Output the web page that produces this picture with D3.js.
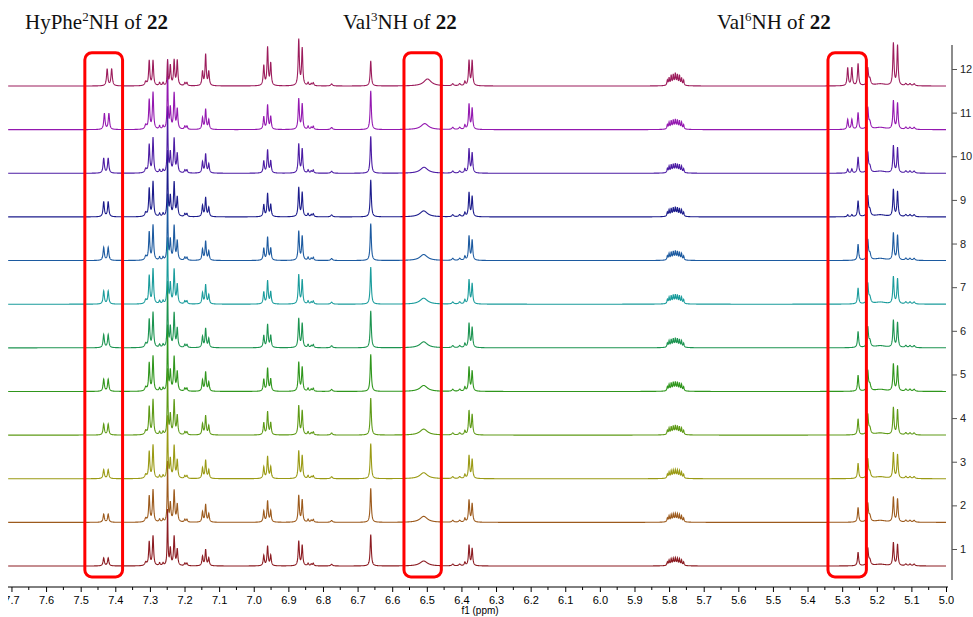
<!DOCTYPE html>
<html>
<head>
<meta charset="utf-8">
<script src="https://cdn.jsdelivr.net/npm/d3@7"></script>
<style>
  body { margin: 0; background: #fff; }
  svg text { font-family: "Liberation Sans", Arial, sans-serif; }
  .title { font-family: "Liberation Serif", "Times New Roman", serif; font-size: 21px; fill: #111; }
</style>
</head>
<body>
<script>
var w = 973, h = 617;

// stacked spectra, bottom to top
var spectra = [1, 2, 3, 4, 5, 6, 7, 8, 9, 10, 11, 12];
var colors = ["#8c1c22", "#9c5a1c", "#9a9a14", "#5e9a16", "#2f961c", "#1c9450",
              "#1a9c9c", "#1c5aa0", "#1c1c8c", "#4c1ca4", "#9418b0", "#9c1c5c"];

// peaks seen in every spectrum: shift (ppm), half width (ppm), height
var peakPpm    = [7.312, 7.302, 7.291, 7.272, 7.262, 7.249, 7.241, 7.230, 7.221, 7.199, 7.193,
                  7.148, 7.139, 7.130, 6.971, 6.960, 6.951, 6.870, 6.860, 6.843, 6.834, 6.828,
                  6.775, 6.662, 6.425, 6.405, 6.390, 6.378, 6.369,
                  5.805, 5.800, 5.794, 5.788, 5.782, 5.776, 5.770, 5.764, 5.758, 5.782,
                  5.254, 5.226, 5.220, 5.190, 5.152, 5.140, 5.116, 5.104, 5.092];
var peakWidth  = [0.003, 0.002, 0.002, 0.002, 0.002, 0.0013, 0.002, 0.002, 0.002, 0.002, 0.002,
                  0.002, 0.002, 0.002, 0.002, 0.002, 0.002, 0.002, 0.002, 0.002, 0.002, 0.002,
                  0.003, 0.002, 0.003, 0.003, 0.002, 0.002, 0.002,
                  0.0015, 0.0015, 0.0015, 0.0015, 0.0015, 0.0015, 0.0015, 0.0015, 0.0015, 0.012,
                  0.002, 0.0022, 0.003, 0.02, 0.002, 0.002, 0.003, 0.003, 0.003];
var peakHeight = [4, 28, 35, 3, 3, 65, 20, 34, 19, 3, 3,
                  11, 19, 9, 12, 23, 12, 29, 24, 3, 2, 3,
                  2, 37, 2, 2, 4, 24, 20,
                  4, 6, 7, 7, 7, 7, 7, 6, 4, 2,
                  16, 20, 6, 2, 27, 25, 2, 2, 2];
// top spectrum (12) heights for the same peaks
var peakHeightTop = [4, 25, 25, 3, 3, 25, 20, 25, 25, 3, 3,
                     14, 31, 14, 20, 38, 22, 46, 37, 3, 2, 3,
                     2, 25, 2, 2, 4, 25, 25,
                     5, 7, 9, 9, 10, 9, 9, 7, 5, 2,
                     22, 17, 6, 2, 42, 40, 2, 2, 2];
var spectrumScale = [0.85, 0.92, 0.95, 1, 1, 1, 1, 1, 1, 1, 1.05, 1];

// amide NH signals that move / change along the series
var hyPheNHppm    = [7.427, 7.427, 7.427, 7.427, 7.427, 7.427, 7.427, 7.427, 7.427, 7.427, 7.425, 7.417];
var hyPheNHheight = [8, 8, 9, 11, 12, 13, 13, 13, 15, 15, 16, 17];
var val3NHppm     = [6.509, 6.509, 6.509, 6.509, 6.509, 6.509, 6.509, 6.509, 6.509, 6.508, 6.506, 6.498];
var val3NHheight  = [5, 6, 6, 6, 6, 6, 6, 6, 6, 6, 6, 7];
var val6NHheight  = [0, 0, 0, 0, 0, 0, 0, 0, 2, 4, 10, 18];

var xTicks = d3.range(50, 78).map(function(d) { return d / 10; });
var yTicks = spectra;

// boxed regions (ppm)
var boxes = [[7.488, 7.379], [6.566, 6.458], [5.341, 5.230]];

var unitsPerRow = 43.6;

var svg = d3.select("body").append("svg").attr("width", w).attr("height", h);

var xScale = d3.scaleLinear().domain([7.71, 5.0]).range([8, 946]);
var yScale = d3.scaleLinear().domain([1, 12]).range([549, 69]);

function buildPeaks(k) {
  var list = [];
  var s = spectrumScale[k];
  for (var i = 0; i < peakPpm.length; i++) {
    var hh = spectra[k] == 12 ? peakHeightTop[i] : peakHeight[i] * s;
    list.push([peakPpm[i], peakWidth[i], hh]);
  }
  list.push([hyPheNHppm[k] + 0.0065, 0.0022, hyPheNHheight[k]]);
  list.push([hyPheNHppm[k] - 0.0065, 0.0022, hyPheNHheight[k]]);
  list.push([val3NHppm[k], 0.013, val3NHheight[k]]);
  list.push([5.284, 0.002, val6NHheight[k]]);
  list.push([5.272, 0.002, val6NHheight[k]]);
  return list;
}

var grid = d3.range(5.0, 7.71, 0.0005);

spectra.forEach(function(num, k) {
  var peaks = buildPeaks(k);
  var pts = grid.map(function(p) {
    var v = 0;
    for (var j = 0; j < peaks.length; j++) {
      var d = (p - peaks[j][0]) / peaks[j][1];
      v += peaks[j][2] / (1 + d * d);
    }
    return [p, v];
  });
  var line = d3.line()
    .x(function(d) { return xScale(d[0]); })
    .y(function(d) { return yScale(num - 0.39 + d[1] / unitsPerRow); });
  svg.append("path")
    .datum(pts)
    .attr("fill", "none")
    .attr("stroke", colors[k])
    .attr("stroke-width", 1.1)
    .attr("d", line);
});

// red boxes
svg.selectAll("rect.box")
  .data(boxes)
  .enter()
  .append("rect")
  .attr("class", "box")
  .attr("x", function(d) { return xScale(d[0]); })
  .attr("width", function(d) { return xScale(d[1]) - xScale(d[0]); })
  .attr("y", yScale(12.37))
  .attr("height", yScale(0.36) - yScale(12.37))
  .attr("rx", 7)
  .attr("fill", "none")
  .attr("stroke", "#ff0000")
  .attr("stroke-width", 3);

// x axis (left label is cut by the picture edge)
svg.append("clipPath").attr("id", "xclip")
  .append("rect").attr("x", 8).attr("y", -10).attr("width", 960).attr("height", 40);

var xg = svg.append("g")
  .attr("transform", "translate(0,587)")
  .append("g")
  .attr("clip-path", "url(#xclip)");

xg.call(d3.axisBottom(xScale)
  .tickValues(xTicks)
  .tickFormat(d3.format(".1f"))
  .tickSize(5)
  .tickPadding(4));

xg.append("g").selectAll("line")
  .data(xTicks.map(function(d) { return d + 0.05; }).filter(function(d) { return d < 7.71; }))
  .enter()
  .append("line")
  .attr("x1", function(d) { return xScale(d); })
  .attr("x2", function(d) { return xScale(d); })
  .attr("y1", 0)
  .attr("y2", 3)
  .attr("stroke", "#000");

xg.select(".domain").attr("d", "M8,0H948");
xg.selectAll("text").attr("font-size", 11).attr("fill", "#000");

svg.append("text")
  .attr("x", 480)
  .attr("y", 614)
  .attr("text-anchor", "middle")
  .attr("font-size", 10)
  .text("f1 (ppm)");

// right axis
var yg = svg.append("g")
  .attr("transform", "translate(952,0)");

yg.call(d3.axisRight(yScale)
  .tickValues(yTicks)
  .tickFormat(d3.format("d"))
  .tickSize(5)
  .tickPadding(3));

yg.select(".domain").attr("d", "M0,45V580").attr("stroke", "#666").attr("stroke-width", 1.5);
yg.selectAll(".tick line").attr("stroke", "#555");
yg.selectAll("text").attr("font-size", 11).attr("fill", "#222");

// titles
function title(x, name, sup) {
  var t = svg.append("text").attr("class", "title").attr("x", x).attr("y", 29);
  t.append("tspan").text(name);
  t.append("tspan").attr("font-size", 13).attr("dy", -8).text(sup);
  t.append("tspan").attr("dy", 8).text("NH of ");
  t.append("tspan").attr("font-weight", "bold").text("22");
}
title(25, "HyPhe", "2");
title(343, "Val", "3");
title(717, "Val", "6");
</script>
</body>
</html>
